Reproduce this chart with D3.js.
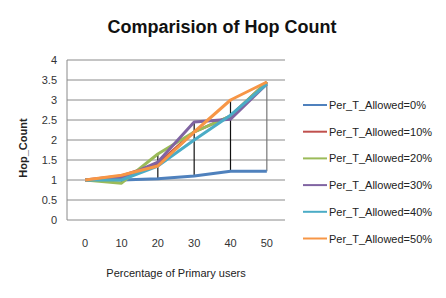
<!DOCTYPE html>
<meta charset="utf-8">
<script src="https://d3js.org/d3.v7.min.js"></script>
<style>
  body { margin: 0; background: #fff; }
  text { font-family: "Liberation Sans", Arial, sans-serif; }
</style>
<div id="my_dataviz"></div>
<script>

// categories (x) and series
var categories = ["0", "10", "20", "30", "40", "50"];
var seriesNames = ["Per_T_Allowed=0%", "Per_T_Allowed=10%", "Per_T_Allowed=20%",
                   "Per_T_Allowed=30%", "Per_T_Allowed=40%", "Per_T_Allowed=50%"];
var allowed0  = [1, 1.00, 1.03, 1.10, 1.22, 1.22];
var allowed10 = [1, 1.10, 1.40, 2.20, 2.60, 3.45];
var allowed20 = [1, 0.92, 1.65, 2.20, 2.60, 3.45];
var allowed30 = [1, 1.05, 1.45, 2.45, 2.52, 3.40];
var allowed40 = [1, 1.00, 1.35, 2.00, 2.62, 3.40];
var allowed50 = [1, 1.12, 1.35, 2.20, 3.00, 3.45];
var yTicks = [0, 0.5, 1, 1.5, 2, 2.5, 3, 3.5, 4];
var colors = ["#4F81BD", "#C0504D", "#9BBB59", "#8064A2", "#4BACC6", "#F79646"];

var allSeries = [allowed0, allowed10, allowed20, allowed30, allowed40, allowed50];

var width = 446, height = 298;
var plot = {left: 67, right: 285, top: 60, bottom: 220};

var svg = d3.select("#my_dataviz")
  .append("svg")
    .attr("width", width)
    .attr("height", height);

// scales
var x = d3.scalePoint()
  .domain(categories)
  .range([plot.left, plot.right])
  .padding(0.5);

var y = d3.scaleLinear()
  .domain([0, 4])
  .range([plot.bottom, plot.top]);

// gridlines
svg.append("g")
  .selectAll("line")
  .data(yTicks)
  .enter()
  .append("line")
    .attr("x1", plot.left)
    .attr("x2", plot.right)
    .attr("y1", function(d){ return y(d) })
    .attr("y2", function(d){ return y(d) })
    .style("stroke", "#8a8a8a")
    .style("stroke-width", 1);

// y axis line
svg.append("line")
  .attr("x1", plot.left).attr("x2", plot.left)
  .attr("y1", y(0)).attr("y2", y(4))
  .style("stroke", "#8a8a8a");

// y tick labels
svg.append("g")
  .selectAll("text")
  .data(yTicks)
  .enter()
  .append("text")
    .attr("x", plot.left - 10)
    .attr("y", function(d){ return y(d) + 4 })
    .attr("text-anchor", "end")
    .style("font-size", "11px")
    .style("fill", "#333")
    .text(function(d){ return d });

// x tick labels
svg.append("g")
  .selectAll("text")
  .data(categories)
  .enter()
  .append("text")
    .attr("x", function(d){ return x(d) })
    .attr("y", 247)
    .attr("text-anchor", "middle")
    .style("font-size", "11px")
    .style("fill", "#333")
    .text(function(d){ return d });

// high-low lines (min to max across series at each category)
svg.append("g")
  .selectAll("line")
  .data(categories)
  .enter()
  .append("line")
    .attr("x1", function(d){ return x(d) })
    .attr("x2", function(d){ return x(d) })
    .attr("y1", function(d,i){ return y(d3.min(allSeries, function(s){ return s[i] })) })
    .attr("y2", function(d,i){ return y(d3.max(allSeries, function(s){ return s[i] })) })
    .style("stroke", function(d,i){ return i == 5 ? "#777" : "#111" })
    .style("stroke-width", 1.2);

// series lines
var line = d3.line()
  .x(function(d,i){ return x(categories[i]) })
  .y(function(d){ return y(d) });

svg.append("g")
  .selectAll("path")
  .data(allSeries)
  .enter()
  .append("path")
    .attr("d", line)
    .style("fill", "none")
    .style("stroke", function(d,i){ return colors[i] })
    .style("stroke-width", 3)
    .style("stroke-linejoin", "round");

// title
svg.append("text")
  .attr("x", 222)
  .attr("y", 33)
  .attr("text-anchor", "middle")
  .style("font-size", "18px")
  .style("font-weight", "bold")
  .style("fill", "#111")
  .text("Comparision of Hop Count");

// axis titles
svg.append("text")
  .attr("x", (plot.left + plot.right) / 2)
  .attr("y", 277)
  .attr("text-anchor", "middle")
  .style("font-size", "11px")
  .style("fill", "#222")
  .text("Percentage of Primary users");

svg.append("text")
  .attr("transform", "translate(27,148) rotate(-90)")
  .attr("text-anchor", "middle")
  .style("font-size", "11px")
  .style("font-weight", "bold")
  .style("fill", "#222")
  .text("Hop_Count");

// legend
var legend = svg.append("g")
  .selectAll("g")
  .data(seriesNames)
  .enter()
  .append("g")
    .attr("transform", function(d,i){ return "translate(303," + (105 + i*26.7) + ")" });

legend.append("line")
  .attr("x1", 0).attr("x2", 24)
  .attr("y1", 0).attr("y2", 0)
  .style("stroke", function(d,i){ return colors[i] })
  .style("stroke-width", 2);

legend.append("text")
  .attr("x", 26)
  .attr("y", 4)
  .style("font-size", "11px")
  .style("fill", "#222")
  .text(function(d){ return d });

</script>
